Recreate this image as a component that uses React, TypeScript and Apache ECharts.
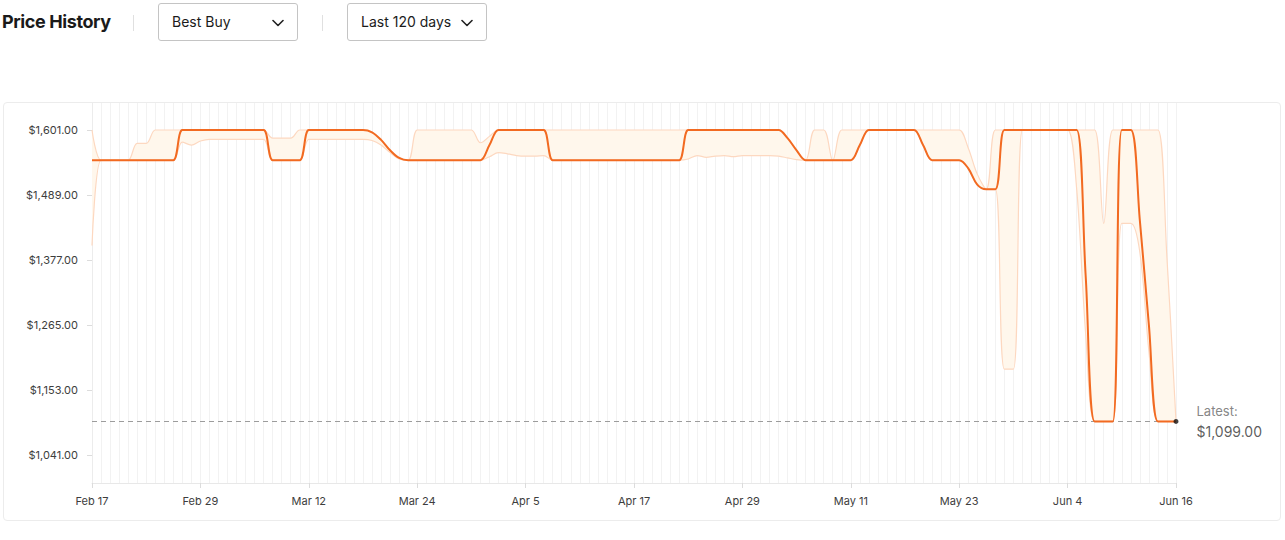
import React, { useEffect, useRef } from "react";
import * as echarts from "echarts";

const MONTHS = ["Jan", "Feb", "Mar", "Apr", "May", "Jun", "Jul", "Aug", "Sep", "Oct", "Nov", "Dec"];
const DAY_COUNT = 121;
const dates: string[] = Array.from({ length: DAY_COUNT }, (_, i) => {
  const d = new Date(2024, 1, 17 + i);
  return `${MONTHS[d.getMonth()]} ${d.getDate()}`;
});

const yTicks = [1041, 1153, 1265, 1377, 1489, 1601];
const latestPrice = 1099;

// Best Buy price per day
const price = [
  1549, 1549, 1549, 1549, 1549, 1549, 1549, 1549, 1549, 1549,
  1601, 1601, 1601, 1601, 1601, 1601, 1601, 1601, 1601, 1601,
  1549, 1549, 1549, 1549, 1601, 1601, 1601, 1601, 1601, 1601,
  1601, 1597, 1584, 1566, 1553, 1549, 1549, 1549, 1549, 1549,
  1549, 1549, 1549, 1549, 1575, 1601, 1601, 1601, 1601, 1601,
  1601, 1549, 1549, 1549, 1549, 1549, 1549, 1549, 1549, 1549,
  1549, 1549, 1549, 1549, 1549, 1549, 1601, 1601, 1601, 1601,
  1601, 1601, 1601, 1601, 1601, 1601, 1601, 1587, 1566, 1549,
  1549, 1549, 1549, 1549, 1549, 1575, 1601, 1601, 1601, 1601,
  1601, 1601, 1575, 1549, 1549, 1549, 1549, 1535, 1507, 1499,
  1499, 1601, 1601, 1601, 1601, 1601, 1601, 1601, 1601, 1601,
  1350, 1099, 1099, 1099, 1601, 1601, 1445, 1265, 1099, 1099,
  1099,
];

// upper bound of the price range
const upper = [
  1601, 1549, 1549, 1549, 1549, 1578, 1578, 1601, 1601, 1601,
  1601, 1601, 1601, 1601, 1601, 1601, 1601, 1601, 1601, 1601,
  1587, 1587, 1587, 1601, 1601, 1601, 1601, 1601, 1601, 1601,
  1601, 1597, 1584, 1566, 1553, 1549, 1601, 1601, 1601, 1601,
  1601, 1601, 1601, 1579, 1590, 1601, 1601, 1601, 1601, 1601,
  1601, 1601, 1601, 1601, 1601, 1601, 1601, 1601, 1601, 1601,
  1601, 1601, 1601, 1601, 1601, 1601, 1601, 1601, 1601, 1601,
  1601, 1601, 1601, 1601, 1601, 1601, 1601, 1587, 1566, 1549,
  1601, 1601, 1549, 1601, 1601, 1601, 1601, 1601, 1601, 1601,
  1601, 1601, 1601, 1601, 1601, 1601, 1601, 1570, 1525, 1499,
  1601, 1601, 1601, 1601, 1601, 1601, 1601, 1601, 1601, 1601,
  1601, 1601, 1440, 1601, 1601, 1601, 1601, 1601, 1601, 1380,
  1099,
];

// lower bound of the price range
const lower = [
  1402, 1549, 1549, 1549, 1549, 1549, 1549, 1549, 1549, 1549,
  1580, 1575, 1582, 1585, 1585, 1585, 1585, 1585, 1585, 1585,
  1549, 1549, 1549, 1549, 1585, 1585, 1585, 1585, 1585, 1585,
  1585, 1583, 1575, 1562, 1551, 1549, 1549, 1549, 1549, 1549,
  1549, 1549, 1549, 1549, 1555, 1562, 1560, 1557, 1556, 1556,
  1557, 1549, 1549, 1549, 1549, 1549, 1549, 1549, 1549, 1549,
  1549, 1549, 1549, 1549, 1549, 1549, 1551, 1557, 1554, 1556,
  1557, 1555, 1557, 1557, 1557, 1557, 1556, 1553, 1550, 1549,
  1549, 1549, 1549, 1549, 1549, 1575, 1601, 1601, 1601, 1601,
  1601, 1601, 1575, 1549, 1549, 1549, 1549, 1535, 1507, 1499,
  1499, 1189, 1189, 1601, 1601, 1601, 1601, 1601, 1601, 1500,
  1250, 1099, 1099, 1099, 1440, 1440, 1390, 1220, 1099, 1099,
  1099,
];

const fmt = (v: number) =>
  "$" + v.toLocaleString("en-US", { minimumFractionDigits: 2, maximumFractionDigits: 2 });

const ORANGE = "#f26a21";
const BAND_LINE = "#fdd8c0";
const BAND_FILL = "#fff7ec";
const SMOOTH = 0.35;

function Chevron() {
  return (
    <svg width="12" height="8" viewBox="0 0 12 8" style={{ display: "block" }}>
      <polyline points="1,1.5 6,6.5 11,1.5" fill="none" stroke="#222" strokeWidth="1.6" strokeLinecap="round" strokeLinejoin="round" />
    </svg>
  );
}

function Dropdown({ left, width, text }: { left: number; width: number; text: string }) {
  return (
    <div
      style={{
        position: "absolute",
        left,
        top: 3,
        width,
        height: 38,
        border: "1px solid #c4c4c4",
        borderRadius: 3,
        boxSizing: "border-box",
      }}
    >
      <div style={{ position: "absolute", left: 13, top: 0, lineHeight: "36px", fontSize: 14, color: "#1b1b1b" }}>{text}</div>
      <div style={{ position: "absolute", right: 13, top: 15 }}>
        <Chevron />
      </div>
    </div>
  );
}

export default function App() {
  const ref = useRef<HTMLDivElement>(null);

  useEffect(() => {
    const chart = echarts.init(ref.current!, null, { renderer: "svg" });
    const range = upper.map((u, i) => u - lower[i]);
    const last = price.length - 1;
    chart.setOption({
      animation: false,
      textStyle: { fontFamily: "Inter, sans-serif" },
      grid: { left: 92, right: 109, top: 103, bottom: 57 },
      xAxis: {
        type: "category",
        boundaryGap: false,
        data: dates,
        axisLine: { show: true, lineStyle: { color: "#e8e8e8" } },
        axisTick: { show: true, interval: 11, length: 5, lineStyle: { color: "#dcdcdc" } },
        axisLabel: { interval: 11, color: "#3d3d3d", fontSize: 11, margin: 12 },
        splitLine: { show: true, interval: 0, lineStyle: { color: "#f2f2f2", width: 1 } },
      },
      yAxis: {
        type: "value",
        min: 993,
        max: 1647.5,
        axisLine: { show: true, lineStyle: { color: "#ececec" } },
        axisTick: { show: true, customValues: yTicks, length: 5, lineStyle: { color: "#dcdcdc" } },
        axisLabel: { customValues: yTicks, formatter: fmt, color: "#3d3d3d", fontSize: 11, margin: 14 },
        splitLine: { show: false },
      },
      series: [
        {
          name: "low",
          type: "line",
          data: lower,
          stack: "band",
          smooth: SMOOTH,
          symbol: "none",
          lineStyle: { color: BAND_LINE, width: 1.2 },
          silent: true,
          z: 1,
        },
        {
          name: "range",
          type: "line",
          data: range,
          stack: "band",
          smooth: SMOOTH,
          symbol: "none",
          lineStyle: { color: BAND_LINE, width: 1.2 },
          areaStyle: { color: BAND_FILL, opacity: 1 },
          silent: true,
          z: 1,
        },
        {
          name: "Best Buy",
          type: "line",
          data: price,
          smooth: SMOOTH,
          symbol: "none",
          lineStyle: { color: ORANGE, width: 2 },
          z: 3,
          markLine: {
            silent: true,
            symbol: "none",
            label: { show: false },
            lineStyle: { color: "#9c9c9c", type: [5, 4], width: 1 },
            data: [{ yAxis: latestPrice }],
            z: 2,
          },
        },
        {
          name: "latest",
          type: "scatter",
          data: [[last, price[last]]],
          symbol: "circle",
          symbolSize: 5,
          itemStyle: { color: "#111" },
          z: 5,
          label: {
            show: true,
            position: "right",
            distance: 18,
            formatter: `{a|Latest:}\n{b|${fmt(price[last])}}`,
            rich: {
              a: { color: "#666", fontSize: 13, lineHeight: 21, fontFamily: "Inter, sans-serif" },
              b: { color: "#333", fontSize: 14, lineHeight: 21, fontFamily: "Inter, sans-serif" },
            },
          },
        },
      ],
    });
    return () => chart.dispose();
  }, []);

  return (
    <div
      style={{
        position: "fixed",
        left: 0,
        top: 0,
        width: 1285,
        height: 540,
        background: "#fff",
        fontFamily: "Inter, sans-serif",
        overflow: "hidden",
      }}
    >
      <div
        style={{
          position: "absolute",
          left: 3,
          top: 102,
          width: 1278,
          height: 419,
          border: "1px solid #ececec",
          borderRadius: 4,
          boxSizing: "border-box",
        }}
      />
      <div ref={ref} style={{ position: "absolute", left: 0, top: 0, width: 1285, height: 540 }} />
      <div
        style={{
          position: "absolute",
          left: 2,
          top: 10,
          fontSize: 18,
          fontWeight: 700,
          lineHeight: "24px",
          color: "#1a1a1a",
          letterSpacing: -0.4,
        }}
      >
        Price History
      </div>
      <div style={{ position: "absolute", left: 133, top: 15, width: 1, height: 16, background: "#e0e0e0" }} />
      <Dropdown left={158} width={140} text="Best Buy" />
      <div style={{ position: "absolute", left: 322, top: 15, width: 1, height: 16, background: "#e0e0e0" }} />
      <Dropdown left={347} width={140} text="Last 120 days" />
    </div>
  );
}
